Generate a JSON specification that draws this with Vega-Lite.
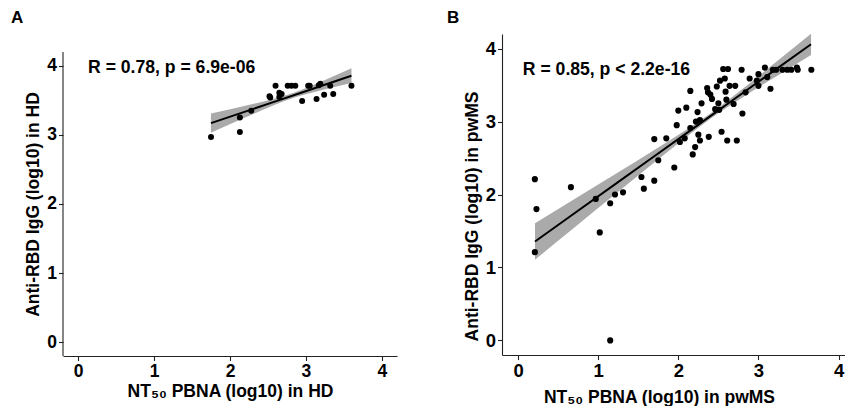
{
  "$schema": "https://vega.github.io/schema/vega-lite/v6.json",
  "background": "white",
  "padding": {"left": 11, "top": 8, "right": 0, "bottom": 0},
  "spacing": 50,
  "config": {
    "view": {"stroke": null},
    "font": "Liberation Sans",
    "axis": {"grid": false, "domainColor": "#222222", "tickColor": "#222222", "domainWidth": 1.1, "tickWidth": 1.1, "tickSize": 4.5, "labelColor": "#000000", "titleColor": "#000000", "labelFontWeight": "bold", "titleFontWeight": "bold", "labelPadding": 2, "labelFont": "Liberation Sans", "titleFont": "Liberation Sans"},
    "title": {"font": "Liberation Sans", "fontSize": 17, "fontWeight": "bold", "anchor": "start", "frame": "group", "color": "#000000"}
  },
  "datasets": {
    "hd": [
      {"x": 1.75, "y": 2.97}, {"x": 2.13, "y": 3.25}, {"x": 2.13, "y": 3.04}, {"x": 2.28, "y": 3.35},
      {"x": 2.52, "y": 3.56}, {"x": 2.53, "y": 3.54}, {"x": 2.60, "y": 3.71}, {"x": 2.65, "y": 3.61},
      {"x": 2.68, "y": 3.59}, {"x": 2.65, "y": 3.55}, {"x": 2.76, "y": 3.71}, {"x": 2.81, "y": 3.71},
      {"x": 2.86, "y": 3.71}, {"x": 2.95, "y": 3.49}, {"x": 3.03, "y": 3.71}, {"x": 3.05, "y": 3.71},
      {"x": 3.14, "y": 3.52}, {"x": 3.17, "y": 3.72}, {"x": 3.19, "y": 3.74}, {"x": 3.24, "y": 3.58},
      {"x": 3.32, "y": 3.71}, {"x": 3.36, "y": 3.59}, {"x": 3.60, "y": 3.71}
    ],
    "hd_fit": [
      {"x": 1.749, "y": 3.17, "lo": 3.03, "hi": 3.31},
      {"x": 2.2, "y": 3.337, "lo": 3.25, "hi": 3.42},
      {"x": 2.6, "y": 3.485, "lo": 3.44, "hi": 3.53},
      {"x": 2.85, "y": 3.577, "lo": 3.54, "hi": 3.615},
      {"x": 3.2, "y": 3.707, "lo": 3.645, "hi": 3.77},
      {"x": 3.6, "y": 3.855, "lo": 3.75, "hi": 3.965}
    ],
    "ms": [
      {"x": 0.21, "y": 2.21}, {"x": 0.23, "y": 1.80}, {"x": 0.21, "y": 1.21}, {"x": 0.66, "y": 2.10},
      {"x": 0.97, "y": 1.94}, {"x": 1.02, "y": 1.48}, {"x": 1.15, "y": 1.88}, {"x": 1.21, "y": 2.00},
      {"x": 1.31, "y": 2.03}, {"x": 1.54, "y": 2.24}, {"x": 1.57, "y": 2.08}, {"x": 1.70, "y": 2.19},
      {"x": 1.70, "y": 2.76}, {"x": 1.75, "y": 2.47}, {"x": 1.85, "y": 2.77}, {"x": 1.95, "y": 2.37},
      {"x": 1.98, "y": 2.95}, {"x": 2.00, "y": 3.15}, {"x": 2.02, "y": 2.72}, {"x": 2.08, "y": 2.77},
      {"x": 2.10, "y": 3.19}, {"x": 2.15, "y": 3.42}, {"x": 2.15, "y": 2.91}, {"x": 2.18, "y": 2.55},
      {"x": 2.21, "y": 2.65}, {"x": 2.22, "y": 3.00}, {"x": 2.24, "y": 3.13}, {"x": 2.25, "y": 2.82},
      {"x": 2.27, "y": 3.02}, {"x": 2.27, "y": 2.74}, {"x": 2.29, "y": 3.25}, {"x": 2.36, "y": 3.46},
      {"x": 2.37, "y": 3.40}, {"x": 2.38, "y": 2.79}, {"x": 2.40, "y": 3.37}, {"x": 2.42, "y": 3.31},
      {"x": 2.46, "y": 3.17}, {"x": 2.48, "y": 3.48}, {"x": 2.50, "y": 3.25}, {"x": 2.51, "y": 3.16},
      {"x": 2.52, "y": 3.56}, {"x": 2.54, "y": 2.86}, {"x": 2.56, "y": 3.72}, {"x": 2.58, "y": 3.59},
      {"x": 2.59, "y": 3.41}, {"x": 2.60, "y": 3.30}, {"x": 2.61, "y": 2.74}, {"x": 2.62, "y": 3.72},
      {"x": 2.64, "y": 3.49}, {"x": 2.69, "y": 3.24}, {"x": 2.71, "y": 3.49}, {"x": 2.73, "y": 2.74},
      {"x": 2.79, "y": 3.71}, {"x": 2.80, "y": 3.11}, {"x": 2.84, "y": 3.40}, {"x": 2.89, "y": 3.59},
      {"x": 2.98, "y": 3.56}, {"x": 3.00, "y": 3.65}, {"x": 3.00, "y": 3.49}, {"x": 3.08, "y": 3.74},
      {"x": 3.11, "y": 3.61}, {"x": 3.15, "y": 3.45}, {"x": 3.18, "y": 3.71}, {"x": 3.22, "y": 3.71},
      {"x": 3.30, "y": 3.71}, {"x": 3.36, "y": 3.71}, {"x": 3.41, "y": 3.71}, {"x": 3.48, "y": 3.74},
      {"x": 3.49, "y": 3.71}, {"x": 3.66, "y": 3.71}, {"x": 1.15, "y": 0.00}
    ],
    "ms_fit": [
      {"x": 0.212, "y": 1.356, "lo": 1.106, "hi": 1.606},
      {"x": 0.7, "y": 1.739, "lo": 1.544, "hi": 1.934},
      {"x": 1.2, "y": 2.132, "lo": 1.992, "hi": 2.272},
      {"x": 1.7, "y": 2.524, "lo": 2.438, "hi": 2.611},
      {"x": 2.1, "y": 2.838, "lo": 2.789, "hi": 2.887},
      {"x": 2.4, "y": 3.074, "lo": 3.039, "hi": 3.109},
      {"x": 2.8, "y": 3.388, "lo": 3.331, "hi": 3.445},
      {"x": 3.2, "y": 3.702, "lo": 3.605, "hi": 3.799},
      {"x": 3.656, "y": 4.059, "lo": 3.913, "hi": 4.205}
    ]
  },
  "resolve": {"scale": {"x": "independent", "y": "independent"}},
  "hconcat": [
    {
      "title": {"text": "A", "dx": -52, "offset": 7},
      "width": 334,
      "height": 322,
      "encoding": {
        "x": {"field": "x", "type": "quantitative", "title": "NT₅₀ PBNA (log10) in HD",
              "scale": {"domain": [-0.2, 4.2], "nice": false, "zero": false},
              "axis": {"values": [0, 1, 2, 3, 4], "labelFontSize": 17.5, "titleFontSize": 17.5, "titlePadding": 2}},
        "y": {"field": "y", "type": "quantitative", "title": "Anti-RBD IgG (log10) in HD",
              "scale": {"domain": [-0.2, 4.46], "nice": false, "zero": false},
              "axis": {"values": [0, 1, 2, 3, 4], "domain": false, "labelFontSize": 17.5, "titleFontSize": 17.5, "titlePadding": 4, "titleY": 170}}
      },
      "layer": [
        {"data": {"values": [{"x": -0.2, "y": -0.2, "y2": 4.2}]},
         "mark": {"type": "rule", "color": "#222222", "strokeWidth": 1.1},
         "encoding": {"y2": {"field": "y2"}}},
        {"data": {"name": "hd_fit"}, "mark": {"type": "area", "color": "#aaaaaa", "opacity": 1, "interpolate": "monotone"},
         "encoding": {"y": {"field": "lo", "type": "quantitative", "title": "Anti-RBD IgG (log10) in HD"}, "y2": {"field": "hi"}}},
        {"data": {"name": "hd_fit"}, "mark": {"type": "line", "color": "#000000", "strokeWidth": 2}},
        {"data": {"name": "hd"}, "mark": {"type": "circle", "color": "#000000", "opacity": 1, "size": 36}},
        {"data": {"values": [{"x": 0.13, "y": 3.975, "label": "R = 0.78, p = 6.9e-06"}]},
         "mark": {"type": "text", "align": "left", "baseline": "middle", "fontSize": 17.6, "fontWeight": "bold", "font": "Liberation Sans", "color": "#000000"},
         "encoding": {"text": {"field": "label"}}}
      ]
    },
    {
      "title": {"text": "B", "dx": -55, "offset": 7},
      "width": 343,
      "height": 321,
      "encoding": {
        "x": {"field": "x", "type": "quantitative", "title": "NT₅₀ PBNA (log10) in pwMS",
              "scale": {"domain": [-0.2, 4.08], "nice": false, "zero": false},
              "axis": {"values": [0, 1, 2, 3, 4], "labelFontSize": 18.5, "titleFontSize": 17.5, "titlePadding": 8, "titleX": 157}},
        "y": {"field": "y", "type": "quantitative", "title": "Anti-RBD IgG (log10) in pwMS",
              "scale": {"domain": [-0.2, 4.2], "nice": false, "zero": false},
              "axis": {"values": [0, 1, 2, 3, 4], "labelFontSize": 18.5, "titleFontSize": 17.5, "titlePadding": 4, "titleY": 182}}
      },
      "layer": [
        {"data": {"name": "ms_fit"}, "mark": {"type": "area", "color": "#aaaaaa", "opacity": 1, "interpolate": "monotone"},
         "encoding": {"y": {"field": "lo", "type": "quantitative", "title": "Anti-RBD IgG (log10) in pwMS"}, "y2": {"field": "hi"}}},
        {"data": {"name": "ms_fit"}, "mark": {"type": "line", "color": "#000000", "strokeWidth": 2}},
        {"data": {"name": "ms"}, "mark": {"type": "circle", "color": "#000000", "opacity": 1, "size": 38}},
        {"data": {"values": [{"x": 0.06, "y": 3.70, "label": "R = 0.85, p < 2.2e-16"}]},
         "mark": {"type": "text", "align": "left", "baseline": "middle", "fontSize": 17.6, "fontWeight": "bold", "font": "Liberation Sans", "color": "#000000"},
         "encoding": {"text": {"field": "label"}}}
      ]
    }
  ]
}
